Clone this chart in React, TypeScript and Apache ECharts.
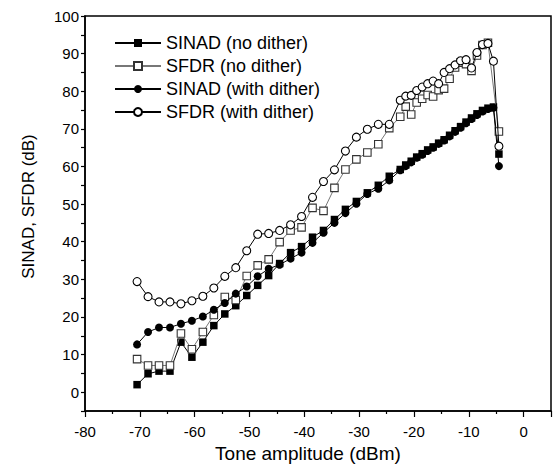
import React, { useEffect, useRef } from "react";
import * as echarts from "echarts";

const toneAmplitude = [
  -70.5, -68.5, -66.5, -64.5, -62.5, -60.5, -58.5, -56.5, -54.5, -52.5, -50.5, -48.5,
  -46.5, -44.5, -42.5, -40.5, -38.5, -36.5, -34.5, -32.5, -30.5, -28.5, -26.5, -24.5,
  -22.5, -21.5, -20.5, -19.5, -18.5, -17.5, -16.5, -15.5, -14.5, -13.5, -12.5, -11.5,
  -10.5, -9.5, -8.5, -7.5, -6.5, -5.5, -4.5,
];

const sinadNoDither = [
  2.0, 4.9, 5.6, 5.6, 13.3, 9.3, 13.3, 17.7, 20.8, 23.0, 25.7, 28.4,
  31.0, 34.2, 37.1, 38.7, 41.2, 43.0, 45.9, 48.6, 50.7, 53.0, 55.0, 57.4,
  59.2, 60.4, 61.4, 62.5, 63.4, 64.4, 65.2, 66.2, 67.1, 68.3, 69.5, 70.6,
  71.8, 72.9, 74.0, 74.9, 75.5, 75.8, 63.3,
];

const sfdrNoDither = [
  8.8, 7.1, 7.1, 7.1, 15.6, 11.4, 16.0, 20.5, 25.3, 24.5, 30.9, 33.7,
  35.3, 39.9, 43.0, 43.8, 49.0, 48.2, 54.3, 59.2, 61.9, 63.7, 65.9, 70.2,
  73.2, 75.9, 73.8, 77.0, 78.0, 79.0, 78.6, 80.3, 80.7, 83.3, 86.3, 87.6,
  87.2, 85.4, 89.5, 92.3, 92.9, null, 69.3,
];

const sinadWithDither = [
  12.7, 16.0, 17.2, 17.2, 18.2, 19.0, 20.1, 21.9, 23.7, 26.2, 28.1, 30.8,
  32.8, 33.9, 35.5, 37.1, 39.7, 42.4, 45.0, 47.6, 50.1, 52.7, 54.1, 56.3,
  59.0, 60.1, 61.1, 62.3, 63.1, 64.1, 65.0, 66.0, 66.9, 68.0, 69.2, 70.3,
  71.5, 72.6, 73.7, 74.6, 75.3, 75.6, 60.1,
];

const sfdrWithDither = [
  29.4, 25.4, 24.0, 24.0, 23.5, 24.3, 25.5, 27.7, 30.8, 33.1, 37.6, 42.0,
  42.2, 43.0, 44.5, 46.7, 51.8, 56.0, 59.1, 64.1, 67.8, 69.9, 71.2, 71.2,
  77.6, 78.7, 78.9, 80.2, 81.1, 82.0, 82.7, 82.0, 85.0, 86.0, 87.0, 88.1,
  88.4, 86.2, 90.3, 92.4, 92.7, 88.0, 65.4,
];

const seriesNames = [
  "SINAD (no dither)",
  "SFDR (no dither)",
  "SINAD (with dither)",
  "SFDR (with dither)",
];

const FONT = "'Liberation Sans', Arial, sans-serif";

function pairs(ys: (number | null)[]) {
  return toneAmplitude.map((x, i) => [x, ys[i]]);
}

export default function App() {
  const ref = useRef<HTMLDivElement>(null);
  useEffect(() => {
    if (!ref.current) return;
    const chart = echarts.init(ref.current, undefined, { renderer: "svg" });
    chart.setOption({
      animation: false,
      backgroundColor: "#fff",
      textStyle: { fontFamily: FONT, color: "#000" },
      grid: {
        left: 85,
        right: 2,
        top: 16,
        bottom: 57,
        show: true,
        borderColor: "#000",
        borderWidth: 1.5,
        backgroundColor: "transparent",
      },
      legend: {
        orient: "vertical",
        left: 114,
        top: 34,
        padding: 0,
        itemWidth: 46,
        itemHeight: 10,
        itemGap: 5,
        textStyle: { fontSize: 18, fontFamily: FONT, color: "#000" },
        data: seriesNames,
      },
      xAxis: {
        type: "value",
        min: -80,
        max: 5,
        interval: 10,
        name: "Tone amplitude (dBm)",
        nameLocation: "middle",
        nameGap: 33,
        nameTextStyle: { fontSize: 19, fontFamily: FONT, color: "#000", padding: [0, 20, 0, 0] },
        axisLine: { onZero: false, lineStyle: { color: "#000", width: 1.5 } },
        axisTick: { length: 6, lineStyle: { color: "#000", width: 1.2 } },
        minorTick: { show: true, splitNumber: 2, length: 3, lineStyle: { color: "#000", width: 1.2 } },
        axisLabel: { fontSize: 15, color: "#000", margin: 13, fontFamily: FONT, showMaxLabel: false },
        splitLine: { show: false },
      },
      yAxis: {
        type: "value",
        min: -5,
        max: 100,
        interval: 5,
        name: "SINAD, SFDR (dB)",
        nameLocation: "middle",
        nameGap: 48,
        nameTextStyle: { fontSize: 17, fontFamily: FONT, color: "#000", padding: [0, 0, 0, 14] },
        axisLine: { onZero: false, lineStyle: { color: "#000", width: 1.5 } },
        axisTick: { length: 4, lineStyle: { color: "#000", width: 1.2 } },
        axisLabel: {
          fontSize: 15,
          color: "#000",
          margin: 6,
          fontFamily: FONT,
          formatter: (v: number) => (v >= 0 && v % 10 === 0 ? String(v) : ""),
        },
        splitLine: { show: false },
      },
      series: [
        {
          name: seriesNames[0],
          type: "line",
          data: pairs(sinadNoDither),
          symbol: "rect",
          symbolSize: 7.5,
          showAllSymbol: true,
          connectNulls: true,
          itemStyle: { color: "#000" },
          lineStyle: { color: "#000", width: 1 },
          z: 2,
        },
        {
          name: seriesNames[1],
          type: "line",
          data: pairs(sfdrNoDither),
          symbol: "rect",
          symbolSize: 7.5,
          showAllSymbol: true,
          connectNulls: true,
          itemStyle: { color: "#fff", borderColor: "#333", borderWidth: 1.1 },
          lineStyle: { color: "#777", width: 1 },
          z: 3,
        },
        {
          name: seriesNames[2],
          type: "line",
          data: pairs(sinadWithDither),
          symbol: "circle",
          symbolSize: 8,
          showAllSymbol: true,
          connectNulls: true,
          itemStyle: { color: "#000" },
          lineStyle: { color: "#000", width: 1 },
          z: 4,
        },
        {
          name: seriesNames[3],
          type: "line",
          data: pairs(sfdrWithDither),
          symbol: "circle",
          symbolSize: 8,
          showAllSymbol: true,
          connectNulls: true,
          itemStyle: { color: "#fff", borderColor: "#000", borderWidth: 1.1 },
          lineStyle: { color: "#000", width: 1 },
          z: 5,
        },
      ],
    });
    return () => chart.dispose();
  }, []);
  return (
    <div
      ref={ref}
      style={{ position: "fixed", left: 0, top: 0, width: 553, height: 468, background: "#fff" }}
    />
  );
}
